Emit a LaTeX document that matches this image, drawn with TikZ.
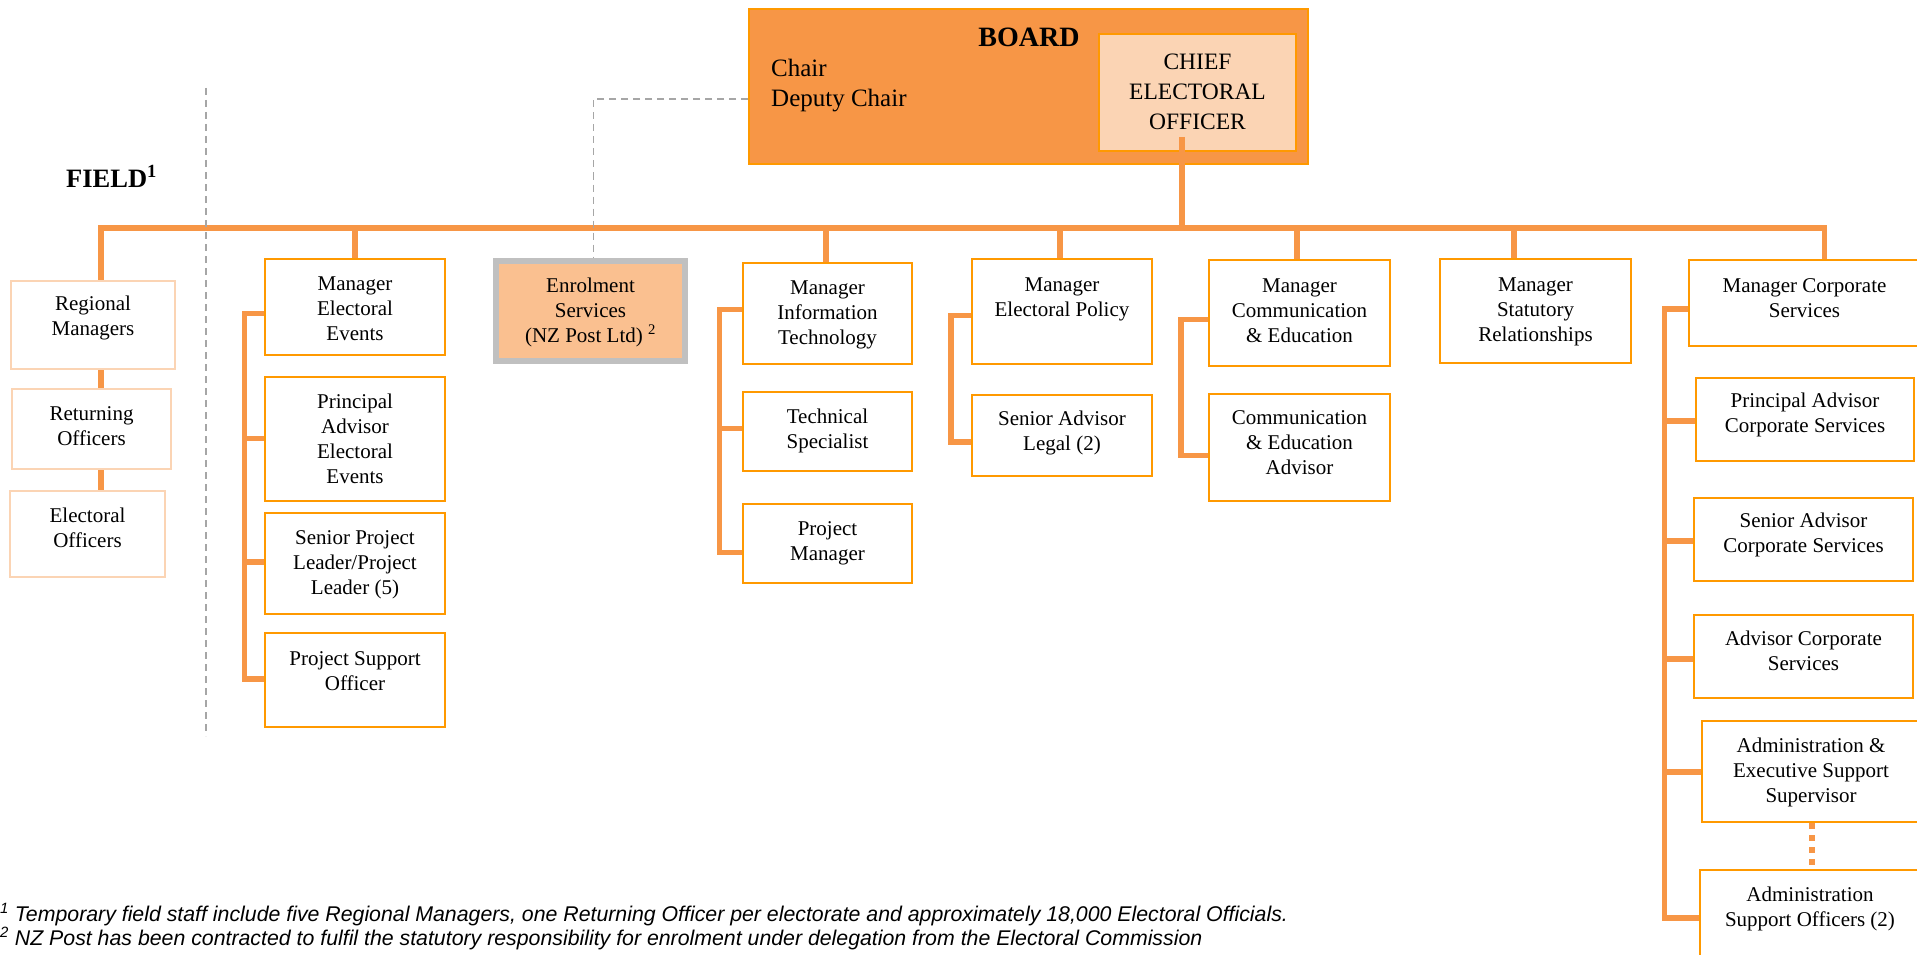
\documentclass[tikz,border=0pt]{standalone}
\usepackage{fontspec}
\setmainfont{Liberation Serif}
\newfontfamily\notefont{Liberation Sans}
\usetikzlibrary{calc}

\definecolor{lineor}{HTML}{F79646}
\definecolor{boxor}{HTML}{FF9900}
\definecolor{pale}{HTML}{FBD4B4}
\definecolor{enrolfill}{HTML}{FAC090}
\definecolor{greyb}{HTML}{C0C0C0}
\definecolor{dashg}{HTML}{A6A6A6}

\newcommand\boxfont{\fontsize{21}{25}\selectfont}
\setlength{\tabcolsep}{0pt}

\tikzset{
  orgb/.style={draw=boxor, line width=2pt, fill=white, inner sep=0pt, font=\boxfont},
  fieldb/.style={draw=pale, line width=2.5pt},
  enrolb/.style={draw=greyb, fill=enrolfill, line width=6pt},
  ceob/.style={fill=pale, font=\fontsize{23.5}{30}\selectfont},
  boardb/.style={draw=boxor, fill=lineor, line width=2pt, inner sep=0pt},
  conn/.style={draw=lineor, line width=5.5pt},
  dashline/.style={draw=dashg, line width=1.5pt, dash pattern=on 7pt off 5pt},
  dotline/.style={draw=lineor, line width=6pt, dash pattern=on 6pt off 6pt},
  atbase/.style={inner sep=0pt, text height=0pt, text depth=0pt},
}

% \orgbox[style]{name}{x1}{y1}{x2}{y2}{first baseline y}{text}
\newcommand\orgbox[8][]{%
  \pgfmathsetmacro\obCx{(#3+#5)/2}%
  \pgfmathsetmacro\obCy{(#4+#6)/2}%
  \pgfmathsetmacro\obW{#5-#3}%
  \pgfmathsetmacro\obH{#6-#4}%
  \pgfmathsetmacro\obUp{\obCy-#7}%
  \pgfmathsetmacro\obTh{max(0,-2*\obUp)}%
  \pgfmathsetmacro\obTd{max(0,2*\obUp)}%
  \node[orgb,#1,minimum width=\obW pt,minimum height=\obH pt,text height=\obTh pt,text depth=\obTd pt] (#2) at (\obCx,\obCy) {\begin{tabular}[t]{@{}c@{}}#8\end{tabular}};%
}

\begin{document}
\begin{tikzpicture}[x=1pt,y=-1pt]
\fill[white] (0,0) rectangle (1917,955);
\useasboundingbox (0,0) rectangle (1917,955);

% Board
\node[boardb, minimum width=559pt, minimum height=155pt] (board) at (1028.5,86.5) {};
\node[atbase, font=\bfseries\fontsize{28}{30}\selectfont] (boardt) at (1029,47) {BOARD};
\node[atbase, anchor=base west, font=\fontsize{25}{30}\selectfont] (chair) at (771,77) {\begin{tabular}[t]{@{}l@{}}Chair\\Deputy Chair\end{tabular}};
\orgbox[ceob]{ceo}{1099}{34}{1296}{151}{70}{CHIEF\\ELECTORAL\\OFFICER}

% Field
\node[atbase, anchor=base west, font=\bfseries\fontsize{26.5}{30}\selectfont] (field) at (66,187) {FIELD\textsuperscript{1}};
\orgbox[fieldb]{rm}{11}{281}{175}{369}{310}{Regional\\Managers}
\orgbox[fieldb]{ro}{12}{389}{171}{469}{420}{Returning\\Officers}
\orgbox[fieldb]{eo}{10}{491}{165}{577}{522}{Electoral\\Officers}

% Electoral events
\orgbox{mee}{265}{259}{445}{355}{290}{Manager\\Electoral\\Events}
\orgbox{pae}{265}{377}{445}{501}{408}{Principal\\Advisor\\Electoral\\Events}
\orgbox{spl}{265}{513}{445}{614}{544}{Senior Project\\Leader/Project\\Leader (5)}
\orgbox{spo}{265}{633}{445}{727}{665}{Project Support\\Officer}

% Enrolment
\orgbox[enrolb]{enr}{496}{261}{685}{361}{292}{Enrolment\\Services\\(NZ Post Ltd) \textsuperscript{2}}

% IT
\orgbox{mit}{743}{263}{912}{364}{294}{Manager\\Information\\Technology}
\orgbox{tsp}{743}{392}{912}{471}{423}{Technical\\Specialist}
\orgbox{prm}{743}{504}{912}{583}{535}{Project\\Manager}

% Policy
\orgbox{mep}{972}{259}{1152}{364}{291}{Manager\\Electoral Policy}
\orgbox{sal}{972}{395}{1152}{476}{425}{Senior Advisor\\Legal (2)}

% Communication
\orgbox{mce}{1209}{260}{1390}{366}{292}{Manager\\Communication\\\& Education}
\orgbox{cea}{1209}{394}{1390}{501}{424}{Communication\\\& Education\\Advisor}

% Statutory
\orgbox{msr}{1440}{259}{1631}{363}{291}{Manager\\Statutory\\Relationships}

% Corporate
\orgbox{mcs}{1689}{260}{1920}{346}{292}{Manager Corporate\\Services}
\orgbox{pac}{1696}{378}{1914}{461}{407}{Principal Advisor\\Corporate Services}
\orgbox{sac}{1694}{498}{1913}{581}{527}{Senior Advisor\\Corporate Services}
\orgbox{adc}{1694}{615}{1913}{698}{645}{Advisor Corporate\\Services}
\orgbox{aes}{1702}{721}{1920}{822}{752}{Administration \&\\Executive Support\\Supervisor}
\orgbox{aso}{1700}{870}{1920}{962}{901}{Administration\\Support Officers (2)}

% coordinates
\coordinate (busL) at (101,228);
\coordinate (busR) at (1824.5,228);
\coordinate (ceoD) at (1182,137);
\coordinate (dEE) at (355,228);
\coordinate (dIT) at (826,228);
\coordinate (dEP) at (1060,228);
\coordinate (dCE) at (1297,228);
\coordinate (dSR) at (1514,228);

% bus and drops
\draw[conn] (busL |- rm.north) -- (busL) -- (busR) -- (busR |- mcs.north);
\draw[conn] (ceoD) -- (ceoD |- busL);
\draw[conn] (dEE) -- (dEE |- mee.north);
\draw[conn] (dIT) -- (dIT |- mit.north);
\draw[conn] (dEP) -- (dEP |- mep.north);
\draw[conn] (dCE) -- (dCE |- mce.north);
\draw[conn] (dSR) -- (dSR |- msr.north);

% field links
\draw[conn] (busL |- rm.south) -- (busL |- ro.north);
\draw[conn] (busL |- ro.south) -- (busL |- eo.north);

% Electoral events bracket
\coordinate (eeA) at (244.5,313.5);
\coordinate (eeB) at (244.5,438.5);
\coordinate (eeC) at (244.5,562);
\coordinate (eeD) at (244.5,679);
\draw[conn] (mee.west |- eeA) -- (eeA) -- (eeD) -- (spo.west |- eeD);
\draw[conn] (eeB) -- (pae.west |- eeB);
\draw[conn] (eeC) -- (spl.west |- eeC);

% IT bracket
\coordinate (itA) at (719.5,309.5);
\coordinate (itB) at (719.5,428.5);
\coordinate (itC) at (719.5,552.5);
\draw[conn] (mit.west |- itA) -- (itA) -- (itC) -- (prm.west |- itC);
\draw[conn] (itB) -- (tsp.west |- itB);

% Policy bracket
\coordinate (epA) at (951,315.5);
\coordinate (epB) at (951,442);
\draw[conn] (mep.west |- epA) -- (epA) -- (epB) -- (sal.west |- epB);

% Communication bracket
\coordinate (ceA) at (1181,319.5);
\coordinate (ceB) at (1181,455.5);
\draw[conn] (mce.west |- ceA) -- (ceA) -- (ceB) -- (cea.west |- ceB);

% Corporate bracket
\coordinate (csA) at (1664.5,309);
\coordinate (csB) at (1664.5,421);
\coordinate (csC) at (1664.5,541);
\coordinate (csD) at (1664.5,659);
\coordinate (csE) at (1664.5,772);
\coordinate (csF) at (1664.5,918);
\draw[conn] (mcs.west |- csA) -- (csA) -- (csF) -- (aso.west |- csF);
\draw[conn] (csB) -- (pac.west |- csB);
\draw[conn] (csC) -- (sac.west |- csC);
\draw[conn] (csD) -- (adc.west |- csD);
\draw[conn] (csE) -- (aes.west |- csE);

% dotted link
\coordinate (dotX) at (1812,800);
\draw[dotline] (dotX |- aes.south) -- (dotX |- aso.north);

% dashed lines
\coordinate (dA) at (593.5,99);
\draw[dashline] (board.west |- dA) -- (dA) -- (dA |- enr.north);
\coordinate (fTop) at (206,88);
\coordinate (fBot) at (206,736);
\draw[dashline] (fTop) -- (fBot);

% footnotes
\node[atbase, anchor=base west, font=\notefont\itshape\fontsize{21.3}{24}\selectfont] (fn1) at (0,921) {\textsuperscript{1} Temporary field staff include five Regional Managers, one Returning Officer per electorate and approximately 18,000 Electoral Officials.};
\node[atbase, anchor=base west, font=\notefont\itshape\fontsize{21.3}{24}\selectfont] (fn2) at (0,945) {\textsuperscript{2} NZ Post has been contracted to fulfil the statutory responsibility for enrolment under delegation from the Electoral Commission};
\end{tikzpicture}
\end{document}
